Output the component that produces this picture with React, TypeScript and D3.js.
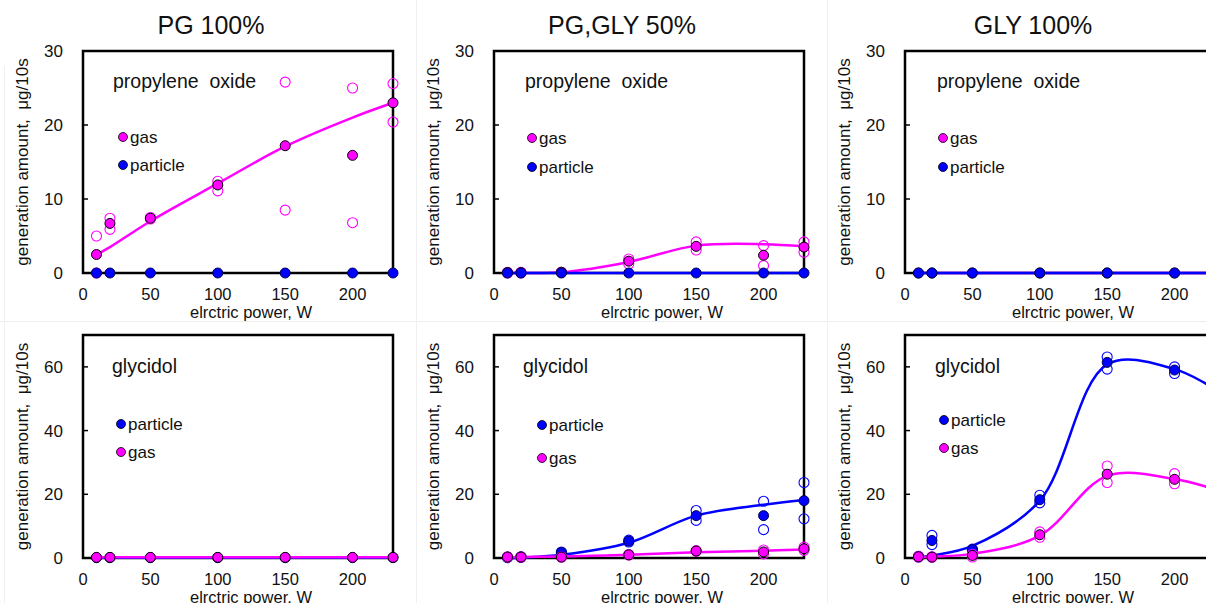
import React from "react";
import * as d3 from "d3";

// ---------- data ----------
const powers = [10, 20, 50, 100, 150, 200, 230];
const xTicks = [0, 50, 100, 150, 200];
const yTicksTop = [0, 10, 20, 30];
const yTicksBottom = [0, 20, 40, 60];
const titles = ["PG 100%", "PG,GLY 50%", "GLY 100%"];
const compoundTop = "propylene oxide";
const compoundBottom = "glycidol";

// propylene oxide, PG 100%
const poPgGasMean = [2.5, 6.7, 7.4, 11.9, 17.2, 15.9, 23.0];
const poPgGasRepA = [5.0, 7.4, 7.5, 12.4, 25.8, 25.0, 25.6];
const poPgGasRepB = [0.0, 5.9, 7.3, 11.1, 8.5, 6.8, 20.4];
const poPgGasFit = [2.5, 3.5, 7.0, 12.1, 17.1, 21.0, 23.0];
const poPgPartMean = [0, 0, 0, 0, 0, 0, 0];

// propylene oxide, PG,GLY 50%
const poMixGasMean = [0.05, 0.05, 0.1, 1.6, 3.6, 2.4, 3.5];
const poMixGasRepA = [0.1, 0.1, 0.1, 1.9, 4.2, 3.7, 4.2];
const poMixGasRepB = [0.0, 0.0, 0.1, 1.2, 3.1, 1.0, 2.8];
const poMixGasFit = [0.0, 0.0, 0.1, 1.5, 3.7, 3.9, 3.6];
const poMixPartMean = [0, 0, 0, 0, 0, 0, 0];
const poMixPartFit = [0, 0, 0, 0, 0, 0, 0];

// propylene oxide, GLY 100%
const poGlyGasMean = [0, 0, 0, 0, 0, 0, 0];
const poGlyGasFit = [0, 0, 0, 0, 0, 0, 0];
const poGlyPartMean = [0, 0, 0, 0, 0, 0, 0];
const poGlyPartFit = [0, 0, 0, 0, 0, 0, 0];

// glycidol, PG 100%
const glPgPartMean = [0.1, 0.1, 0.1, 0.1, 0.1, 0.1, 0.1];
const glPgPartFit = [0.1, 0.1, 0.1, 0.1, 0.1, 0.1, 0.1];
const glPgGasMean = [0.2, 0.2, 0.2, 0.2, 0.2, 0.2, 0.2];
const glPgGasFit = [0.2, 0.2, 0.2, 0.2, 0.2, 0.2, 0.2];

// glycidol, PG,GLY 50%
const glMixPartMean = [0.2, 0.3, 1.7, 5.3, 13.3, 13.3, 18.0];
const glMixPartRepA = [0.3, 0.4, 1.9, 5.6, 14.9, 17.8, 23.7];
const glMixPartRepB = [0.1, 0.2, 1.5, 5.0, 11.8, 8.9, 12.3];
const glMixPartFit = [-0.1, 0.1, 1.0, 4.8, 13.3, 16.7, 18.2];
const glMixGasMean = [0.3, 0.3, 0.3, 1.0, 2.2, 1.9, 2.9];
const glMixGasRepA = [0.3, 0.3, 0.3, 1.1, 2.3, 2.5, 3.4];
const glMixGasRepB = [0.3, 0.3, 0.3, 0.9, 2.1, 1.3, 2.4];
const glMixGasFit = [0.2, 0.3, 0.5, 1.0, 1.8, 2.3, 2.7];

// glycidol, GLY 100%
const glGlyPartMean = [0.4, 5.5, 2.6, 18.3, 61.4, 59.0, 53.5];
const glGlyPartRepA = [0.5, 7.1, 2.8, 19.7, 63.1, 60.0, 55.0];
const glGlyPartRepB = [0.3, 4.2, 2.4, 17.3, 59.3, 57.9, 52.0];
const glGlyPartFit = [0.3, 0.8, 3.8, 18.0, 60.8, 59.3, 53.0];
const glGlyGasMean = [0.4, 0.3, 0.8, 7.3, 26.3, 24.7, 21.5];
const glGlyGasRepA = [0.5, 0.4, 0.3, 8.2, 28.9, 26.5, 22.5];
const glGlyGasRepB = [0.3, 0.2, 1.2, 6.5, 23.7, 23.3, 20.5];
const glGlyGasFit = [0.2, 0.4, 1.3, 7.0, 25.8, 24.8, 21.5];

// ---------- styling / layout ----------
const W = 1206;
const H = 603;
const FONT = "'Liberation Sans', Arial, sans-serif";
const MAGENTA = "#ff00ff";
const BLUE = "#0000ff";
const panelLefts = [83, 494, 905];
const plotW = 310;
const rows = [
  { top: 51, bottom: 273, max: 30, ticks: yTicksTop },
  { top: 335, bottom: 558, max: 70, ticks: yTicksBottom },
];

type Series = {
  name: string;
  color: string;
  mean: number[];
  fit?: number[];
  repA?: number[];
  repB?: number[];
};

type PanelDef = {
  col: number;
  row: number;
  label: string;
  labelPos: [number, number];
  legendPos: [number, number][];
  series: Series[];
};

const panels: PanelDef[] = [
  {
    col: 0, row: 0, label: compoundTop, labelPos: [30, 88],
    legendPos: [[40, 137], [40, 165]],
    series: [
      { name: "gas", color: MAGENTA, mean: poPgGasMean, fit: poPgGasFit, repA: poPgGasRepA, repB: poPgGasRepB },
      { name: "particle", color: BLUE, mean: poPgPartMean },
    ],
  },
  {
    col: 1, row: 0, label: compoundTop, labelPos: [31, 88],
    legendPos: [[38, 138], [38, 167]],
    series: [
      { name: "gas", color: MAGENTA, mean: poMixGasMean, fit: poMixGasFit, repA: poMixGasRepA, repB: poMixGasRepB },
      { name: "particle", color: BLUE, mean: poMixPartMean, fit: poMixPartFit },
    ],
  },
  {
    col: 2, row: 0, label: compoundTop, labelPos: [32, 88],
    legendPos: [[38, 138], [38, 167]],
    series: [
      { name: "gas", color: MAGENTA, mean: poGlyGasMean, fit: poGlyGasFit },
      { name: "particle", color: BLUE, mean: poGlyPartMean, fit: poGlyPartFit },
    ],
  },
  {
    col: 0, row: 1, label: compoundBottom, labelPos: [29, 373],
    legendPos: [[38, 424], [38, 452]],
    series: [
      { name: "particle", color: BLUE, mean: glPgPartMean, fit: glPgPartFit },
      { name: "gas", color: MAGENTA, mean: glPgGasMean, fit: glPgGasFit },
    ],
  },
  {
    col: 1, row: 1, label: compoundBottom, labelPos: [29, 373],
    legendPos: [[48, 425], [48, 458]],
    series: [
      { name: "particle", color: BLUE, mean: glMixPartMean, fit: glMixPartFit, repA: glMixPartRepA, repB: glMixPartRepB },
      { name: "gas", color: MAGENTA, mean: glMixGasMean, fit: glMixGasFit, repA: glMixGasRepA, repB: glMixGasRepB },
    ],
  },
  {
    col: 2, row: 1, label: compoundBottom, labelPos: [30, 373],
    legendPos: [[39, 420], [39, 448]],
    series: [
      { name: "particle", color: BLUE, mean: glGlyPartMean, fit: glGlyPartFit, repA: glGlyPartRepA, repB: glGlyPartRepB },
      { name: "gas", color: MAGENTA, mean: glGlyGasMean, fit: glGlyGasFit, repA: glGlyGasRepA, repB: glGlyGasRepB },
    ],
  },
];

function Panel({ p }: { p: PanelDef }) {
  const left = panelLefts[p.col];
  const r = rows[p.row];
  const x = d3.scaleLinear().domain([0, 230]).range([left, left + plotW]);
  const y = d3.scaleLinear().domain([0, r.max]).range([r.bottom, r.top]);
  const line = d3
    .line<number>()
    .x((_, i) => x(powers[i]))
    .y((v) => y(v))
    .curve(d3.curveCatmullRom.alpha(0.5));
  const cy = (r.top + r.bottom) / 2;
  return (
    <g>
      {/* frame */}
      <rect x={left} y={r.top} width={plotW} height={r.bottom - r.top} fill="none" stroke="#000" strokeWidth={2.5} />
      {/* y ticks */}
      {r.ticks.map((t) => (
        <g key={t}>
          {t > 0 && t < r.max && (
            <line x1={left - 1} x2={left + 5} y1={y(t)} y2={y(t)} stroke="#000" strokeWidth={1.5} />
          )}
          <text x={left - 20} y={y(t)} dy="0.35em" textAnchor="end" fontSize={17} fontFamily={FONT} fill="#111">
            {t}
          </text>
        </g>
      ))}
      {/* x tick labels */}
      {xTicks.map((t) => (
        <text key={t} x={x(t)} y={r.bottom + 21} dy="0.35em" textAnchor="middle" fontSize={16.5} fontFamily={FONT} fill="#111">
          {t}
        </text>
      ))}
      <text x={left + plotW / 2 + 13} y={r.bottom + 39} dy="0.35em" textAnchor="middle" fontSize={16.5} fontFamily={FONT} fill="#111">
        elrctric power, W
      </text>
      <text
        transform={`translate(${left - 61},${cy}) rotate(-90)`}
        dy="0.35em"
        textAnchor="middle"
        fontSize={17}
        fontFamily={FONT}
        fill="#111"
        style={{ whiteSpace: "pre" }}
      >
        {"generation amount,  μg/10s"}
      </text>
      <text x={left + p.labelPos[0]} y={p.labelPos[1]} fontSize={19.5} fontFamily={FONT} fill="#111" style={{ whiteSpace: "pre" }}>
        {p.label === compoundTop ? "propylene  oxide" : p.label}
      </text>
      {/* legend */}
      {p.series.map((s, i) => (
        <g key={s.name}>
          <circle cx={left + p.legendPos[i][0]} cy={p.legendPos[i][1]} r={4.5} fill={s.color} stroke="#000" strokeWidth={0.8} />
          <text x={left + p.legendPos[i][0] + 7} y={p.legendPos[i][1]} dy="0.35em" fontSize={17} fontFamily={FONT} fill="#111">
            {s.name}
          </text>
        </g>
      ))}
      {/* series */}
      {p.series.map((s) => (
        <g key={s.name}>
          {s.fit && <path d={line(s.fit) || ""} fill="none" stroke={s.color} strokeWidth={2.5} />}
          {[s.repA, s.repB].map((rep, k) =>
            rep ? (
              <g key={k}>
                {rep.map((v, i) => (
                  <circle key={i} cx={x(powers[i])} cy={y(v)} r={5} fill="none" stroke={s.color} strokeWidth={1.1} />
                ))}
              </g>
            ) : null
          )}
          {s.mean.map((v, i) => (
            <circle key={i} cx={x(powers[i])} cy={y(v)} r={5} fill={s.color} stroke={s.color === BLUE ? "#000050" : "#000"} strokeWidth={1} />
          ))}
        </g>
      ))}
    </g>
  );
}

export default function App() {
  return (
    <svg width={W} height={H} style={{ position: "absolute", left: 0, top: 0, background: "#fff" }}>
      <rect x={0} y={0} width={W} height={H} fill="#fff" />
      {/* faint panel separators */}
      <line x1={0} x2={W} y1={321.5} y2={321.5} stroke="#eeeeee" strokeWidth={1} />
      <line x1={4.5} x2={4.5} y1={66} y2={H} stroke="#f0f0f0" strokeWidth={1} />
      <line x1={416.5} x2={416.5} y1={0} y2={H} stroke="#f0f0f0" strokeWidth={1} />
      <line x1={827.5} x2={827.5} y1={0} y2={H} stroke="#f0f0f0" strokeWidth={1} />
      {titles.map((t, i) => (
        <text key={t} x={panelLefts[i] + plotW / 2 - 27} y={25} dy="0.35em" textAnchor="middle" fontSize={25} fontFamily={FONT} fill="#111">
          {t}
        </text>
      ))}
      {panels.map((p, i) => (
        <Panel key={i} p={p} />
      ))}
    </svg>
  );
}
